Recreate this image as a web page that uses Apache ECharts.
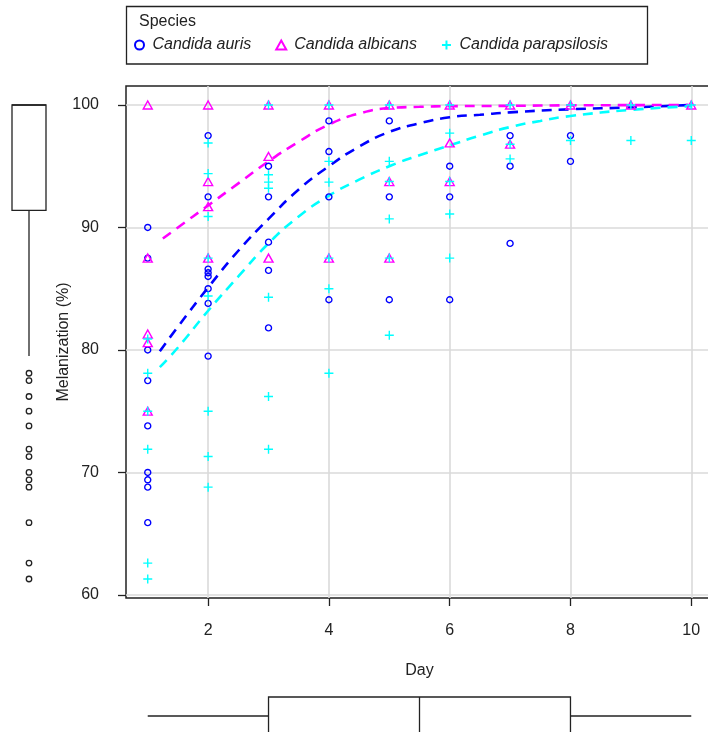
<!DOCTYPE html>
<html>
<head>
<meta charset="utf-8">
<script src="https://cdn.jsdelivr.net/npm/echarts@6/dist/echarts.min.js"></script>
<style>
html,body{margin:0;padding:0;background:#ffffff;}
#chart{width:708px;height:732px;}
</style>
</head>
<body>
<div id="chart"></div>
<script>
// ---------- data ----------
const speciesNames = ['Candida auris', 'Candida albicans', 'Candida parapsilosis'];
const dayTicks = [2, 4, 6, 8, 10];
const melTicks = [60, 70, 80, 90, 100];

const aurisPoints = [
  [1, 90.0], [1, 87.5], [1, 80.0], [1, 77.5], [1, 73.8], [1, 70.0], [1, 69.4], [1, 68.8], [1, 65.9],
  [2, 97.5], [2, 92.5], [2, 86.6], [2, 86.3], [2, 86.0], [2, 85.0], [2, 83.8], [2, 79.5],
  [3, 95.0], [3, 92.5], [3, 88.8], [3, 86.5], [3, 81.8],
  [4, 98.7], [4, 96.2], [4, 92.5], [4, 84.1],
  [5, 98.7], [5, 92.5], [5, 84.1],
  [6, 95.0], [6, 92.5], [6, 84.1],
  [7, 97.5], [7, 95.0], [7, 88.7],
  [8, 97.5], [8, 95.4]
];
const albicansPoints = [
  [1, 100], [1, 87.5], [1, 81.3], [1, 80.6], [1, 75.0],
  [2, 100], [2, 93.75], [2, 91.7], [2, 87.5],
  [3, 100], [3, 95.8], [3, 87.5],
  [4, 100], [4, 87.5],
  [5, 100], [5, 93.75], [5, 87.5],
  [6, 100], [6, 96.9], [6, 93.75],
  [7, 100], [7, 96.8],
  [8, 100], [9, 100], [10, 100]
];
const parapsilosisPoints = [
  [1, 80.9], [1, 78.1], [1, 75.0], [1, 71.9], [1, 62.6], [1, 61.3],
  [2, 96.9], [2, 94.4], [2, 90.9], [2, 87.5], [2, 84.4], [2, 75.0], [2, 71.3], [2, 68.8],
  [3, 100], [3, 94.3], [3, 93.7], [3, 93.2], [3, 84.3], [3, 76.2], [3, 71.9],
  [4, 100], [4, 95.4], [4, 93.7], [4, 87.5], [4, 85.0], [4, 78.1],
  [5, 100], [5, 95.4], [5, 93.75], [5, 90.7], [5, 87.5], [5, 81.2],
  [6, 100], [6, 97.7], [6, 93.75], [6, 91.1], [6, 87.5],
  [7, 100], [7, 96.8], [7, 95.6],
  [8, 100], [8, 97.1],
  [9, 100], [9, 97.1],
  [10, 100], [10, 97.1]
];

const aurisFit = [
  [1.2, 79.9], [1.5, 81.9], [2, 85.1], [2.5, 88.1], [3, 90.7], [3.5, 93.1], [4, 95.0], [4.5, 96.6],
  [5, 97.8], [5.5, 98.5], [6, 99.0], [6.5, 99.2], [7, 99.4], [8, 99.65], [9, 99.8], [10, 100]
];
const albicansFit = [
  [1.25, 89.1], [1.5, 90.0], [2, 91.8], [2.5, 93.6], [3, 95.4], [3.5, 97.0], [4, 98.4], [4.5, 99.3],
  [5, 99.75], [5.5, 99.85], [6, 99.9], [7, 99.93], [8, 99.97], [10, 100]
];
const parapsilosisFit = [
  [1.2, 78.6], [1.5, 80.2], [2, 83.2], [2.5, 86.0], [3, 88.7], [3.5, 90.9], [4, 92.6], [4.5, 93.9],
  [5, 95.0], [5.5, 95.9], [6, 96.7], [6.5, 97.5], [7, 98.2], [7.5, 98.7], [8, 99.1], [9, 99.6], [10, 99.9]
];

// marginal boxplots: [lower whisker, Q1, median, Q3, upper whisker]
const dayBox = [1, 3, 5.5, 8, 10];
const melBox = [79.5, 91.4, 100, 100, 100];
const melOutliers = [78.1, 77.5, 76.2, 75.0, 73.8, 71.9, 71.3, 70.0, 69.4, 68.8, 65.9, 62.6, 61.3];
const marginCategory = ['all'];

// ---------- styling ----------
const FONT = "'Liberation Sans', Arial, Helvetica, sans-serif";
const INK = '#222222';
const BLUE = '#0000FF', MAGENTA = '#FF00FF', CYAN = '#00FFFF';
const PLUS = 'path://M0 5L10 5M5 0L5 10';
const X_MIN = 0.64, X_MAX = 10.36, Y_MIN = 59.75, Y_MAX = 101.55;

const chart = echarts.init(document.getElementById('chart'), null, { renderer: 'canvas' });

const boxStyle = { stroke: INK, lineWidth: 1.3, fill: 'none' };

function renderVerticalBox(params, api) {
  const cs = params.coordSys;
  const cat = api.value(0);
  const y = [1, 2, 3, 4, 5].map(i => api.coord([cat, api.value(i)])[1]);
  const xc = cs.x + cs.width / 2, h = cs.width / 2;
  return {
    type: 'group',
    children: [
      { type: 'line', shape: { x1: xc, y1: y[0], x2: xc, y2: y[1] }, style: boxStyle },
      { type: 'line', shape: { x1: xc, y1: y[3], x2: xc, y2: y[4] }, style: boxStyle },
      { type: 'rect', shape: { x: xc - h, y: y[3], width: 2 * h, height: y[1] - y[3] }, style: boxStyle },
      { type: 'line', shape: { x1: xc - h, y1: y[2], x2: xc + h, y2: y[2] }, style: boxStyle }
    ]
  };
}
function renderHorizontalBox(params, api) {
  const cs = params.coordSys;
  const cat = api.value(0);
  const x = [1, 2, 3, 4, 5].map(i => api.coord([api.value(i), cat])[0]);
  const yc = cs.y + cs.height / 2, h = cs.height / 2;
  return {
    type: 'group',
    children: [
      { type: 'line', shape: { x1: x[0], y1: yc, x2: x[1], y2: yc }, style: boxStyle },
      { type: 'line', shape: { x1: x[3], y1: yc, x2: x[4], y2: yc }, style: boxStyle },
      { type: 'rect', shape: { x: x[1], y: yc - h, width: x[3] - x[1], height: 2 * h }, style: boxStyle },
      { type: 'line', shape: { x1: x[2], y1: yc - h, x2: x[2], y2: yc + h }, style: boxStyle }
    ]
  };
}

function fitSeries(name, data, color) {
  return {
    name: name, type: 'line', xAxisIndex: 0, yAxisIndex: 0, data: data,
    showSymbol: false, smooth: 0.5, silent: true, z: 2,
    lineStyle: { color: color, width: 2.6, type: [10, 7] }
  };
}

const option = {
  animation: false,
  backgroundColor: '#ffffff',
  textStyle: { fontFamily: FONT },
  title: {
    text: 'Species', left: 134, top: 9, padding: 5,
    textStyle: { fontFamily: FONT, fontSize: 16, fontWeight: 'normal', color: INK }
  },
  legend: {
    data: speciesNames, left: 134, top: 37, padding: 0,
    itemWidth: 10, itemHeight: 9, itemGap: 24, selectedMode: false,
    textStyle: { fontFamily: FONT, fontSize: 16, fontStyle: 'italic', color: INK, padding: [0, 0, 0, 3] }
  },
  graphic: [{
    type: 'rect', silent: true, z: 10,
    shape: { x: 126.5, y: 6.5, width: 521, height: 57.5 },
    style: { fill: 'none', stroke: INK, lineWidth: 1.3 }
  }],
  grid: [
    { left: 126, top: 86, width: 587, height: 512, outerBoundsMode: 'none', containLabel: false,
      show: true, borderColor: INK, borderWidth: 1.5, backgroundColor: 'transparent' },
    { left: 12, top: 86, width: 34, height: 512, outerBoundsMode: 'none', containLabel: false },
    { left: 126, top: 697, width: 587, height: 38, outerBoundsMode: 'none', containLabel: false }
  ],
  xAxis: [
    {
      gridIndex: 0, type: 'value', min: X_MIN, max: X_MAX,
      name: 'Day', nameLocation: 'middle', nameGap: 65, nameMoveOverlap: false,
      nameTextStyle: { fontFamily: FONT, fontSize: 16, color: INK },
      axisLine: { show: false, onZero: false },
      axisTick: { show: true, length: 8, customValues: dayTicks, lineStyle: { color: INK, width: 1.3 } },
      axisLabel: { customValues: dayTicks, margin: 25, fontFamily: FONT, fontSize: 16, color: INK },
      splitLine: { show: true, lineStyle: { color: '#dadada', width: 1.6 } }
    },
    { gridIndex: 1, type: 'category', data: marginCategory, show: false },
    { gridIndex: 2, type: 'value', min: X_MIN, max: X_MAX, show: false }
  ],
  yAxis: [
    {
      gridIndex: 0, type: 'value', min: Y_MIN, max: Y_MAX,
      name: 'Melanization (%)', nameLocation: 'middle', nameGap: 54, nameMoveOverlap: false,
      nameTextStyle: { fontFamily: FONT, fontSize: 16, color: INK },
      axisLine: { show: false, onZero: false },
      axisTick: { show: true, length: 8, customValues: melTicks, lineStyle: { color: INK, width: 1.3 } },
      axisLabel: { customValues: melTicks, margin: 27, fontFamily: FONT, fontSize: 16, color: INK, padding: [5, 0, 0, 0] },
      splitLine: { show: true, lineStyle: { color: '#dadada', width: 1.6 } }
    },
    { gridIndex: 1, type: 'value', min: Y_MIN, max: Y_MAX, show: false },
    { gridIndex: 2, type: 'category', data: marginCategory, show: false }
  ],
  series: [
    fitSeries('auris fit', aurisFit, BLUE),
    fitSeries('albicans fit', albicansFit, MAGENTA),
    fitSeries('parapsilosis fit', parapsilosisFit, CYAN),
    {
      name: speciesNames[0], type: 'scatter', xAxisIndex: 0, yAxisIndex: 0, data: aurisPoints,
      symbol: 'circle', symbolSize: 6, z: 3,
      itemStyle: { color: 'rgba(0,0,0,0)', borderColor: BLUE, borderWidth: 1.4, opacity: 1 }
    },
    {
      name: speciesNames[1], type: 'scatter', xAxisIndex: 0, yAxisIndex: 0, data: albicansPoints,
      symbol: 'triangle', symbolSize: [9, 8], z: 4,
      itemStyle: { color: 'rgba(0,0,0,0)', borderColor: MAGENTA, borderWidth: 1.4, opacity: 1 }
    },
    {
      name: speciesNames[2], type: 'scatter', xAxisIndex: 0, yAxisIndex: 0, data: parapsilosisPoints,
      symbol: PLUS, symbolSize: 9, z: 5,
      itemStyle: { color: 'rgba(0,0,0,0)', borderColor: CYAN, borderWidth: 1.4, opacity: 1 }
    },
    {
      name: 'melanization box', type: 'custom', xAxisIndex: 1, yAxisIndex: 1,
      data: [[marginCategory[0]].concat(melBox)],
      encode: { x: 0, y: [1, 2, 3, 4, 5] },
      renderItem: renderVerticalBox, silent: true
    },
    {
      name: 'melanization outliers', type: 'scatter', xAxisIndex: 1, yAxisIndex: 1,
      data: melOutliers.map(v => [marginCategory[0], v]),
      symbol: 'circle', symbolSize: 5.5, silent: true,
      itemStyle: { color: 'rgba(0,0,0,0)', borderColor: INK, borderWidth: 1.3, opacity: 1 }
    },
    {
      name: 'day box', type: 'custom', xAxisIndex: 2, yAxisIndex: 2,
      data: [[marginCategory[0]].concat(dayBox)],
      encode: { y: 0, x: [1, 2, 3, 4, 5] },
      renderItem: renderHorizontalBox, silent: true
    }
  ]
};
chart.setOption(option);
</script>
</body>
</html>
